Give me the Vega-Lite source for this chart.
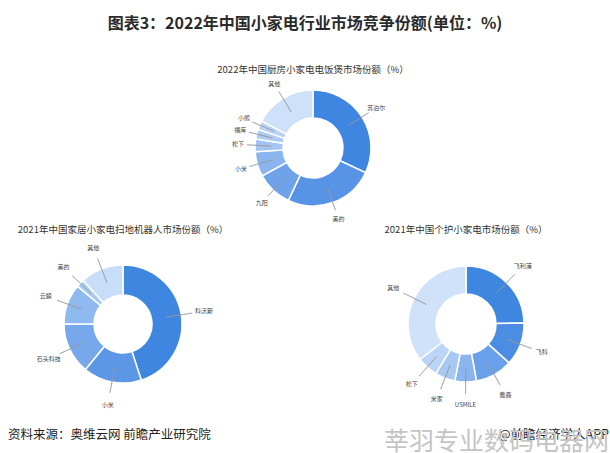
{
  "$schema": "https://vega.github.io/schema/vega-lite/v6.json",
  "background": "white",
  "padding": {"left": 0, "right": 0, "top": 16, "bottom": 0},
  "autosize": {"type": "pad"},
  "config": {
    "view": {"stroke": null},
    "font": "Noto Sans CJK SC",
    "title": {"font": "Noto Sans CJK SC", "fontWeight": "normal", "color": "#333333"}
  },
  "title": {
    "text": "图表3：2022年中国小家电行业市场竞争份额(单位：%)",
    "fontSize": 16, "fontWeight": "bold", "color": "#2b2b2b", "anchor": "middle", "offset": 33
  },
  "spacing": 2,
  "resolve": {"scale": {"color": "independent", "theta": "independent"}},
  "vconcat": [
    {
      "spacing": 0,
      "resolve": {"scale": {"color": "independent", "theta": "independent"}},
      "hconcat": [
        {"width": 16, "height": 122, "data": {"values": []}, "mark": "text", "encoding": {}},
        {
          "width": 594, "height": 122,
          "title": {"text": "2022年中国厨房小家电电饭煲市场份额（%）", "fontSize": 9.5, "anchor": "middle", "frame": "group", "offset": 6},
          "data": {"values": [
            {"name": "苏泊尔", "share": 32},
            {"name": "美的", "share": 25},
            {"name": "九阳", "share": 10},
            {"name": "小米", "share": 7},
            {"name": "松下", "share": 3.5},
            {"name": "福库", "share": 2.7},
            {"name": "小熊", "share": 2.5},
            {"name": "其他", "share": 17.3}
          ]},
          "transform": [{"window": [{"op": "row_number", "as": "idx"}]}],
          "layer": [
            {
              "mark": {"type": "arc", "innerRadius": 30, "outerRadius": 58, "stroke": "white", "strokeWidth": 1.5},
              "encoding": {
                "theta": {"field": "share", "type": "quantitative", "stack": true, "scale": {"domain": [0, 100]}},
                "color": {"field": "name", "type": "nominal", "legend": null,
                  "scale": {"domain": ["苏泊尔", "美的", "九阳", "小米", "松下", "福库", "小熊", "其他"],
                            "range": ["#3e86e0", "#5894e6", "#6ea3ea", "#8ab5ef", "#a3c5f3", "#aecbf4", "#b9d3f6", "#cde1fa"]}},
                "order": {"field": "idx", "type": "quantitative"}
              }
            },
            {
              "transform": [
                {"stack": "share", "groupby": [], "sort": [{"field": "idx", "order": "ascending"}], "as": ["s0", "s1"]},
                {"fold": ["s0", "s1"]},
                {"aggregate": [{"op": "mean", "field": "value", "as": "mid"}], "groupby": ["name"]}
              ],
              "layer": [
                {
                  "mark": {"type": "arc", "filled": false, "stroke": "#999999", "strokeWidth": 0.6, "innerRadius": 42, "outerRadius": 66},
                  "encoding": {
                    "theta": {"field": "mid", "type": "quantitative", "stack": null, "scale": {"domain": [0, 100]}},
                    "theta2": {"field": "mid"}
                  }
                },
                {
                  "mark": {"type": "text", "radius": 75, "fontSize": 6, "fill": "#444444"},
                  "encoding": {
                    "theta": {"field": "mid", "type": "quantitative", "stack": null, "scale": {"domain": [0, 100]}},
                    "text": {"field": "name"}
                  }
                }
              ]
            }
          ]
        }
      ]
    },
    {
      "spacing": 76,
      "resolve": {"scale": {"color": "independent", "theta": "independent"}},
      "hconcat": [
        {
          "width": 246, "height": 162,
          "title": {"text": "2021年中国家居小家电扫地机器人市场份额（%）", "fontSize": 9.5, "anchor": "middle", "frame": "group", "offset": 9},
          "data": {"values": [
            {"name": "科沃斯", "share": 45},
            {"name": "小米", "share": 16},
            {"name": "石头科技", "share": 14},
            {"name": "云鲸", "share": 11},
            {"name": "美的", "share": 2.2},
            {"name": "其他", "share": 11.8}
          ]},
          "transform": [{"window": [{"op": "row_number", "as": "idx"}]}],
          "layer": [
            {
              "mark": {"type": "arc", "innerRadius": 29, "outerRadius": 59, "stroke": "white", "strokeWidth": 1.5},
              "encoding": {
                "theta": {"field": "share", "type": "quantitative", "stack": true, "scale": {"domain": [0, 100]}},
                "color": {"field": "name", "type": "nominal", "legend": null,
                  "scale": {"domain": ["科沃斯", "小米", "石头科技", "云鲸", "美的", "其他"],
                            "range": ["#3e86e0", "#5c97e6", "#77a8eb", "#8ebaf0", "#a8caf4", "#c7ddf8"]}},
                "order": {"field": "idx", "type": "quantitative"}
              }
            },
            {
              "transform": [
                {"stack": "share", "groupby": [], "sort": [{"field": "idx", "order": "ascending"}], "as": ["s0", "s1"]},
                {"fold": ["s0", "s1"]},
                {"aggregate": [{"op": "mean", "field": "value", "as": "mid"}], "groupby": ["name"]}
              ],
              "layer": [
                {
                  "mark": {"type": "arc", "filled": false, "stroke": "#999999", "strokeWidth": 0.6, "innerRadius": 44, "outerRadius": 70},
                  "encoding": {
                    "theta": {"field": "mid", "type": "quantitative", "stack": null, "scale": {"domain": [0, 100]}},
                    "theta2": {"field": "mid"}
                  }
                },
                {
                  "mark": {"type": "text", "radius": 82, "fontSize": 6, "fill": "#444444"},
                  "encoding": {
                    "theta": {"field": "mid", "type": "quantitative", "stack": null, "scale": {"domain": [0, 100]}},
                    "text": {"field": "name"}
                  }
                }
              ]
            }
          ]
        },
        {
          "width": 288, "height": 162,
          "title": {"text": "2021年中国个护小家电市场份额（%）", "fontSize": 9.5, "anchor": "middle", "frame": "group", "offset": 9},
          "data": {"values": [
            {"name": "飞利浦", "share": 24.7},
            {"name": "飞科", "share": 12},
            {"name": "戴森", "share": 10.4},
            {"name": "USMILE", "share": 6},
            {"name": "米家", "share": 5.6},
            {"name": "松下", "share": 5.9},
            {"name": "其他", "share": 35.4}
          ]},
          "transform": [{"window": [{"op": "row_number", "as": "idx"}]}],
          "layer": [
            {
              "mark": {"type": "arc", "innerRadius": 30, "outerRadius": 58, "stroke": "white", "strokeWidth": 1.5},
              "encoding": {
                "theta": {"field": "share", "type": "quantitative", "stack": true, "scale": {"domain": [0, 100]}},
                "color": {"field": "name", "type": "nominal", "legend": null,
                  "scale": {"domain": ["飞利浦", "飞科", "戴森", "USMILE", "米家", "松下", "其他"],
                            "range": ["#3e86e0", "#4a8de3", "#6aa0e9", "#8ab5ee", "#a6c8f3", "#bad5f6", "#cfe2fa"]}},
                "order": {"field": "idx", "type": "quantitative"}
              }
            },
            {
              "transform": [
                {"stack": "share", "groupby": [], "sort": [{"field": "idx", "order": "ascending"}], "as": ["s0", "s1"]},
                {"fold": ["s0", "s1"]},
                {"aggregate": [{"op": "mean", "field": "value", "as": "mid"}], "groupby": ["name"]}
              ],
              "layer": [
                {
                  "mark": {"type": "arc", "filled": false, "stroke": "#999999", "strokeWidth": 0.6, "innerRadius": 44, "outerRadius": 70},
                  "encoding": {
                    "theta": {"field": "mid", "type": "quantitative", "stack": null, "scale": {"domain": [0, 100]}},
                    "theta2": {"field": "mid"}
                  }
                },
                {
                  "mark": {"type": "text", "radius": 81, "fontSize": 6, "fill": "#444444"},
                  "encoding": {
                    "theta": {"field": "mid", "type": "quantitative", "stack": null, "scale": {"domain": [0, 100]}},
                    "text": {"field": "name"}
                  }
                }
              ]
            }
          ]
        }
      ]
    },
    {
      "spacing": 0,
      "hconcat": [
        {
          "width": 305, "height": 18, "data": {"values": []}, "mark": "text", "encoding": {},
          "title": {"text": "资料来源：奥维云网 前瞻产业研究院", "orient": "bottom", "fontSize": 12.5, "anchor": "start", "frame": "group", "dx": 8, "offset": 1, "color": "#222222"}
        },
        {
          "width": 305, "height": 18, "data": {"values": []}, "mark": "text", "encoding": {},
          "title": {"text": "@前瞻经济学人APP", "orient": "bottom", "fontSize": 12.5, "anchor": "end", "frame": "group", "dx": -1, "offset": 1, "color": "#222222",
            "subtitle": "莘羽专业数码电器网", "subtitleFontSize": 25, "subtitleColor": "#c4c4c4", "subtitlePadding": -12, "subtitleFont": "Noto Sans CJK SC"}
        }
      ]
    }
  ]
}
